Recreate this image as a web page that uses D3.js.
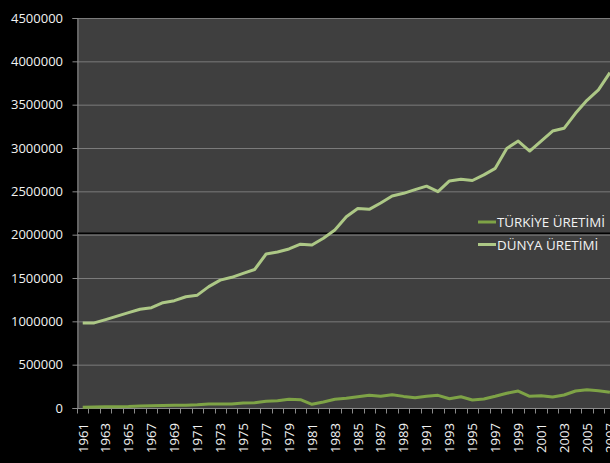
<!DOCTYPE html>
<html>
<head>
<meta charset="utf-8">
<script src="https://cdn.jsdelivr.net/npm/d3@7"></script>
<style>
  html, body { margin: 0; padding: 0; background: #000; }
  svg { display: block; }
</style>
</head>
<body>
<svg id="chart" width="610" height="463"></svg>
<script>
// Years 1961-2007
const years = d3.range(1961, 2008);

// Türkiye production by year
const turkiye = [
  10000, 12000, 14000, 15000, 17000, 22000, 26000, 28000, 32000, 33000,
  37000, 46000, 45000, 46000, 58000, 60000, 77000, 84000, 100000, 96000,
  43000, 69000, 100000, 112000, 130000, 146000, 135000, 154000, 134000, 119000,
  135000, 146000, 107000, 130000, 92000, 104000, 135000, 170000, 196000, 135000,
  142000, 127000, 150000, 196000, 211000, 200000, 181000
];

// World production by year
const dunya = [
  980000, 982000, 1020000, 1060000, 1100000, 1140000, 1157000, 1215000, 1238000, 1284000,
  1302000, 1400000, 1475000, 1508000, 1554000, 1598000, 1777000, 1800000, 1835000, 1890000,
  1880000, 1958000, 2054000, 2207000, 2302000, 2292000, 2365000, 2446000, 2477000, 2520000,
  2560000, 2496000, 2620000, 2640000, 2625000, 2690000, 2765000, 2995000, 3080000, 2965000,
  3080000, 3196000, 3227000, 3400000, 3550000, 3670000, 3870000
];

const yTicks = d3.range(0, 4500001, 500000);
const xLabels = years.filter((yr, i) => i % 2 === 0);

const seriesNames = ["TÜRKİYE ÜRETİMİ", "DÜNYA ÜRETİMİ"];
const seriesColors = ["#7ea346", "#adc886"];

const FONT = "'Open Sans', 'Noto Sans', sans-serif";
const TEXT_COLOR = "#f2f2f2";

const svg = d3.select("#chart");
const W = 610, H = 463;

// Plot area (extends slightly past the right edge of the view)
const plotLeft = 77, plotTop = 18, plotBottom = 408;
const step = 11.46;
const plotRight = plotLeft + step * years.length;

// Scale a group of labels so that its widest member spans the given width
function fitWidth(sel, target) {
  let widest = 0;
  sel.each(function () { widest = Math.max(widest, this.getComputedTextLength()); });
  if (widest > 0) {
    const fs = parseFloat(sel.attr("font-size"));
    sel.attr("font-size", (fs * target / widest).toFixed(2) + "px");
  }
}

svg.append("rect").attr("width", W).attr("height", H).attr("fill", "#000");

const x = d3.scaleBand().domain(years).range([plotLeft, plotRight]).padding(0);
const y = d3.scaleLinear().domain([0, 4500000]).range([plotBottom, plotTop]);

svg.append("rect")
  .attr("x", plotLeft).attr("y", plotTop)
  .attr("width", plotRight - plotLeft).attr("height", plotBottom - plotTop)
  .attr("fill", "#3f3f3f");

// Horizontal gridlines
svg.append("g")
  .selectAll("line")
  .data(yTicks.filter(d => d > 0))
  .join("line")
  .attr("x1", plotLeft).attr("x2", plotRight)
  .attr("y1", d => y(d) + 0.5).attr("y2", d => y(d) + 0.5)
  .attr("stroke", "#7b7b7b").attr("stroke-width", 1);

// Y axis
const yAxis = svg.append("g")
  .attr("transform", `translate(${plotLeft + 0.5},0)`)
  .call(d3.axisLeft(y).tickValues(yTicks).tickFormat(d3.format("d")).tickSize(5).tickPadding(9.5));
yAxis.attr("font-family", null).attr("font-size", null);
yAxis.select(".domain").attr("stroke", "#8a8a8a");
yAxis.selectAll(".tick line").attr("stroke", "#8a8a8a");
const yLabels = yAxis.selectAll(".tick text")
  .attr("fill", TEXT_COLOR)
  .attr("font-family", FONT)
  .attr("font-size", "13.5px");
fitWidth(yLabels, 52);

// X axis: ticks at category boundaries, labels every other year
const xAxisG = svg.append("g").attr("transform", `translate(0,${plotBottom + 0.5})`);
xAxisG.append("line")
  .attr("x1", plotLeft).attr("x2", plotRight)
  .attr("stroke", "#8a8a8a");
xAxisG.selectAll("line.tk")
  .data(years.concat([years[years.length - 1] + 1]))
  .join("line")
  .attr("class", "tk")
  .attr("x1", (d, i) => Math.round(plotLeft + i * x.bandwidth()) + 0.5)
  .attr("x2", (d, i) => Math.round(plotLeft + i * x.bandwidth()) + 0.5)
  .attr("y1", 0).attr("y2", 5)
  .attr("stroke", "#8a8a8a");
const xText = xAxisG.selectAll("text")
  .data(xLabels)
  .join("text")
  .attr("transform", d => `translate(${x(d) + x.bandwidth() / 2 + 4.8},14.5) rotate(-90)`)
  .attr("text-anchor", "end")
  .attr("fill", TEXT_COLOR)
  .attr("font-family", FONT)
  .attr("font-size", "13.5px")
  .text(d => d);
fitWidth(xText, 30);

// Dark separator rule across the plot
svg.append("line")
  .attr("x1", plotLeft + 1).attr("x2", plotRight)
  .attr("y1", y(2000000) - 1.5).attr("y2", y(2000000) - 1.5)
  .attr("stroke", "#000").attr("stroke-width", 1.5);

// Series lines
const line = d3.line()
  .x((d, i) => x(years[i]) + x.bandwidth() / 2)
  .y(d => y(d));

[turkiye, dunya].forEach((vals, k) => {
  svg.append("path")
    .datum(vals)
    .attr("d", line)
    .attr("fill", "none")
    .attr("stroke", seriesColors[k])
    .attr("stroke-width", 3)
    .attr("stroke-linejoin", "round");
});

// Legend
const legend = svg.append("g");
seriesNames.forEach((name, k) => {
  const ly = 222 + k * 22.5;
  legend.append("line")
    .attr("x1", 478).attr("x2", 496)
    .attr("y1", ly).attr("y2", ly)
    .attr("stroke", seriesColors[k]).attr("stroke-width", 3);
  legend.append("text")
    .attr("class", "lg")
    .attr("x", 497).attr("y", ly + 5)
    .attr("fill", TEXT_COLOR)
    .attr("font-family", FONT)
    .attr("font-size", "13.5px")
    .text(name);
});
fitWidth(legend.selectAll("text.lg"), 108);
</script>
</body>
</html>
